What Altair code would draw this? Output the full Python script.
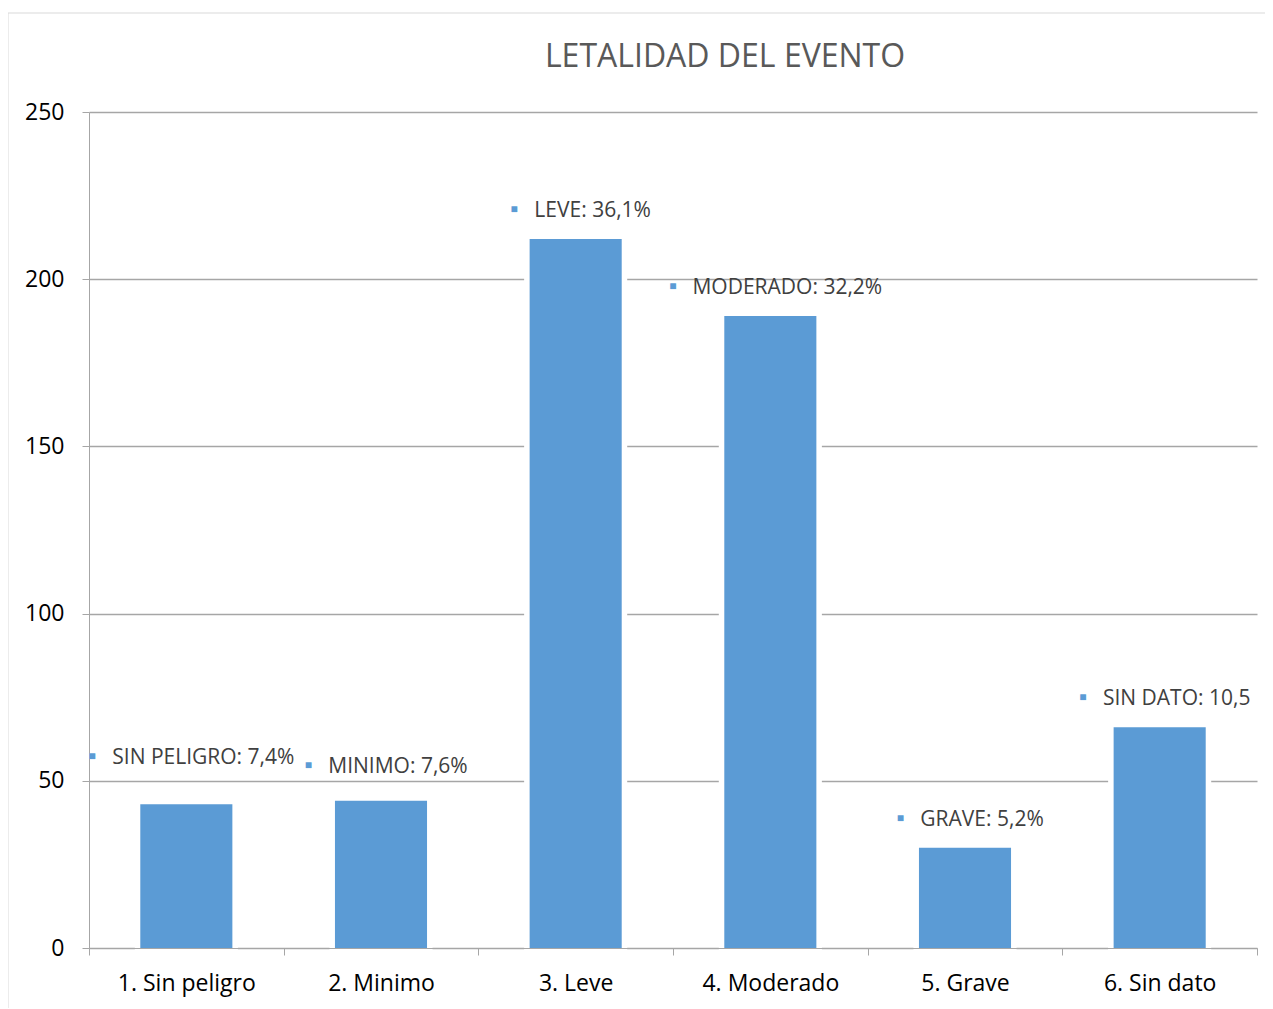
import altair as alt
import pandas as pd

categories = ["1. Sin peligro", "2. Minimo", "3. Leve", "4. Moderado", "5. Grave", "6. Sin dato"]
counts = [43, 44, 212, 189, 30, 66]
labels = ["SIN PELIGRO: 7,4%", "MINIMO: 7,6%", "LEVE: 36,1%", "MODERADO: 32,2%", "GRAVE: 5,2%", "SIN DATO: 10,5"]
y_ticks = [0, 50, 100, 150, 200, 250]

FONT = "Open Sans"
LABEL_FS = 21
TICK_FS = 23
BLUE = "#5B9BD5"
GRID = "#A6A6A6"

# approximate Open Sans advance widths (em) to place the legend-key square left of each label
_w = {' ': 0.26, ':': 0.266, ',': 0.25, '%': 0.828, 'A': 0.633, 'D': 0.707, 'E': 0.556,
      'G': 0.702, 'I': 0.295, 'L': 0.535, 'M': 0.889, 'N': 0.744, 'O': 0.78, 'P': 0.598,
      'R': 0.624, 'S': 0.551, 'T': 0.561, 'V': 0.617}


def text_width(s):
    return sum(_w.get(c, 0.572) for c in s) * LABEL_FS


TEXT_DX = 17
# label lift above the bar top (px); the first two are nudged up to avoid collisions, as in the source
label_lift = {"1. Sin peligro": 46, "2. Minimo": 34}

df = pd.DataFrame({"cat": categories, "n": counts, "label": labels})

W, H = 1168, 836

x_enc = alt.X(
    "cat:N", sort=categories,
    scale=alt.Scale(paddingInner=0, paddingOuter=0),
    axis=alt.Axis(title=None, labelAngle=0, labelFont=FONT, labelFontSize=TICK_FS, labelColor="#000000",
                  tickBand="extent", domainColor=GRID, tickColor=GRID, tickSize=7, labelPadding=17,
                  zindex=1),
)
y_enc = alt.Y(
    "n:Q",
    scale=alt.Scale(domain=[0, 250], nice=False),
    axis=alt.Axis(title=None, values=y_ticks, grid=True, gridColor=GRID, gridWidth=1.3,
                  domainColor=GRID, tickColor=GRID, tickSize=7, labelFont=FONT, labelFontSize=TICK_FS,
                  labelColor="#000000", labelPadding=18, zindex=0),
)

base = alt.Chart(df)

halo = base.mark_bar(width=alt.RelativeBandSize(0.473), color=BLUE, stroke="white",
                     strokeWidth=11).encode(x=x_enc, y=y_enc)
bars = base.mark_bar(width=alt.RelativeBandSize(0.473), color=BLUE).encode(x=x_enc, y=y_enc)

label_layers = []
for cat, lab in zip(categories, labels):
    lift = label_lift.get(cat, 28)
    sub = base.transform_filter(alt.datum.cat == cat)
    label_layers.append(
        sub.mark_text(dx=TEXT_DX, dy=-lift, fontSize=LABEL_FS, font=FONT, color="#404040",
                      align="center", baseline="middle").encode(x=x_enc, y=y_enc, text="label:N")
    )
    off = TEXT_DX - text_width(lab) / 2 - 20
    label_layers.append(
        sub.mark_text(text="\u25a0", fontSize=12, color=BLUE, dx=off, dy=-lift - 2,
                      align="center", baseline="middle").encode(x=x_enc, y=y_enc)
    )

frame = alt.Chart(pd.DataFrame({"k": [0]})).mark_rect(
    fill="white", fillOpacity=0, stroke="#D9D9D9", strokeWidth=1
).encode(x=alt.value(-81), x2=alt.value(1300), y=alt.value(-99), y2=alt.value(1000))

chart = alt.layer(frame, halo, bars, *label_layers).properties(
    width=W, height=H,
    title=alt.TitleParams("LETALIDAD DEL EVENTO", font=FONT, fontSize=32, fontWeight="normal",
                          color="#595959", anchor="middle", dx=52, offset=-61, frame="group"),
    autosize=alt.AutoSizeParams(type="none"),
    padding={"left": 81, "top": 104, "right": 8, "bottom": 60},
).configure(background="white").configure_view(stroke=None)

chart.save("out.html", embed_options={"renderer": "svg", "actions": False})
